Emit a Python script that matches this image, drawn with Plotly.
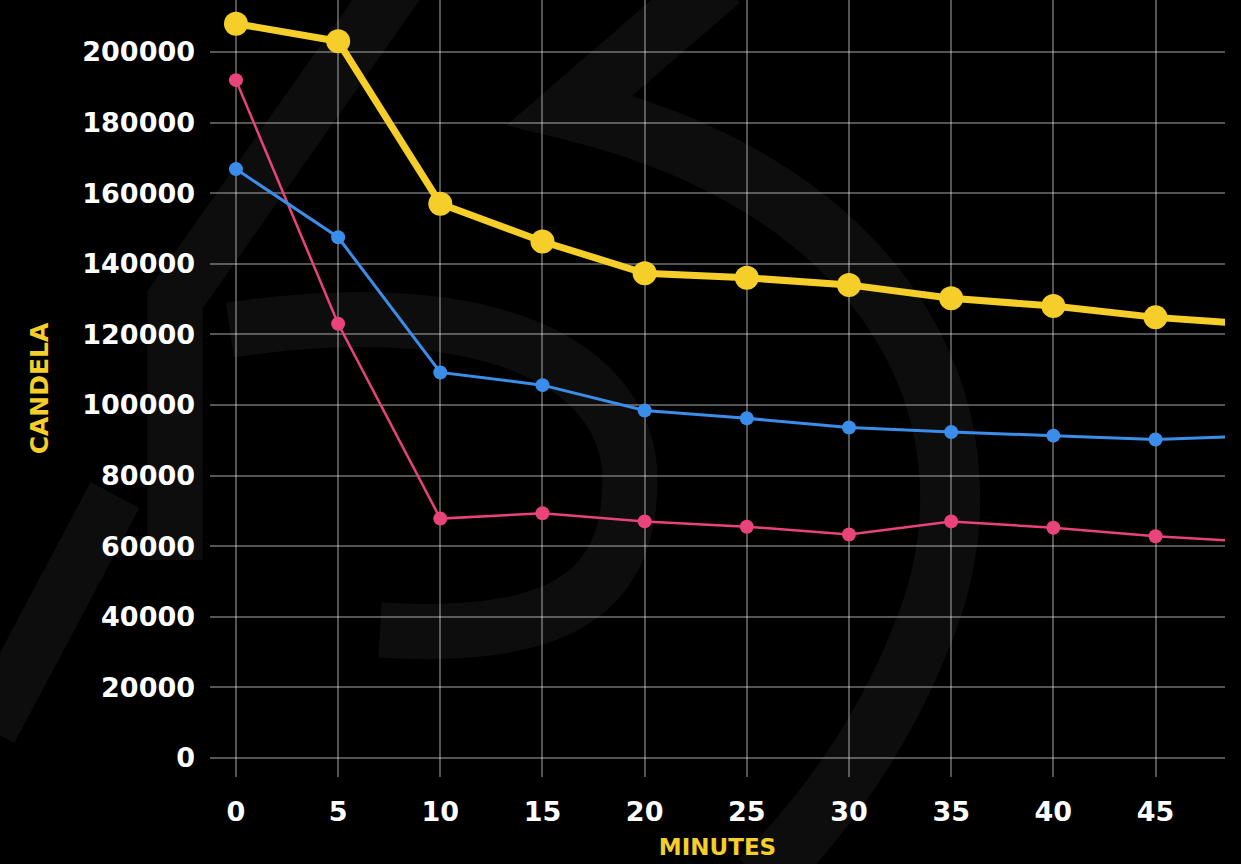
import plotly.graph_objects as go

minutes = [0, 5, 10, 15, 20, 25, 30, 35, 40, 45, 49]
yellow_vals = [208000, 203000, 157000, 146300, 137300, 136000, 134000, 130200, 128000, 124800, 123200]
blue_vals = [166800, 147500, 109200, 105600, 98400, 96200, 93600, 92300, 91300, 90200, 91000]
pink_vals = [192000, 123000, 67800, 69300, 67000, 65500, 63300, 67000, 65200, 62800, 61500]
x_ticks = [0, 5, 10, 15, 20, 25, 30, 35, 40, 45]
y_ticks = [0, 20000, 40000, 60000, 80000, 100000, 120000, 140000, 160000, 180000, 200000]

FONT = "DejaVu Sans"
W, H = 1241, 864
ML, MR, MT, MB = 210, 16, 0, 87
PW, PH = W - ML - MR, H - MT - MB


def msizes(s, n):
    return [s] * (n - 1) + [0]


def px(x, y):
    return (x - ML) / PW, (H - MB - y) / PH


def path(cmds):
    out = []
    for c in cmds:
        if isinstance(c, str):
            out.append(c)
        else:
            a, b = px(*c)
            out.append(f"{a:.4f},{b:.4f}")
    return " ".join(out)


wm = "rgba(255,255,255,0.05)"
shapes = [
    dict(type="path", xref="paper", yref="paper", layer="below",
         path=path(["M", (400, -20), "L", (175, 300), "L", (175, 560)]),
         line=dict(color=wm, width=55)),
    dict(type="path", xref="paper", yref="paper", layer="below",
         path=path(["M", (-10, 730), "L", (115, 495)]),
         line=dict(color=wm, width=55)),
    dict(type="path", xref="paper", yref="paper", layer="below",
         path=path(["M", (720, -20), "L", (570, 110), "C", (900, 190), (1010, 430), (920, 640),
                    "C", (880, 740), (820, 820), (760, 880)]),
         line=dict(color=wm, width=60)),
    dict(type="path", xref="paper", yref="paper", layer="below",
         path=path(["M", (230, 330), "C", (500, 290), (630, 370), (630, 480),
                    "C", (630, 600), (550, 640), (380, 630)]),
         line=dict(color=wm, width=55)),
]

fig = go.Figure()
fig.add_trace(go.Scatter(x=minutes, y=pink_vals, mode="lines+markers",
                         line=dict(color="#E8437A", width=2.5),
                         marker=dict(color="#E8437A", size=msizes(14, len(minutes)),
                                     opacity=1, line=dict(width=0))))
fig.add_trace(go.Scatter(x=minutes, y=blue_vals, mode="lines+markers",
                         line=dict(color="#3A8EEA", width=3),
                         marker=dict(color="#3A8EEA", size=msizes(14, len(minutes)),
                                     opacity=1, line=dict(width=0))))
fig.add_trace(go.Scatter(x=minutes, y=yellow_vals, mode="lines+markers",
                         line=dict(color="#F5CE2A", width=7),
                         marker=dict(color="#F5CE2A", size=msizes(24, len(minutes)),
                                     opacity=1, line=dict(width=0))))

fig.update_layout(
    width=W, height=H,
    paper_bgcolor="#000000", plot_bgcolor="rgba(0,0,0,0)",
    showlegend=False,
    margin=dict(l=ML, r=MR, t=MT, b=MB),
    font=dict(family=FONT, color="white"),
    shapes=shapes,
    xaxis=dict(range=[-1.27, 48.4], tickvals=x_ticks, ticktext=[str(v) for v in x_ticks],
               showgrid=True, gridcolor="rgba(255,255,255,0.33)", gridwidth=2,
               zeroline=False, showline=False,
               tickfont=dict(family=FONT, size=27, color="white", weight="bold"),
               ticklabelstandoff=16,
               title=dict(text="MINUTES", font=dict(family=FONT, size=23, color="#F5CE2A", weight="bold"),
                          standoff=12)),
    yaxis=dict(range=[-5400, 214700], tickvals=y_ticks, ticktext=[str(v) for v in y_ticks],
               showgrid=True, gridcolor="rgba(255,255,255,0.33)", gridwidth=2,
               zeroline=False, showline=False,
               tickfont=dict(family=FONT, size=27, color="white", weight="bold"),
               ticklabelstandoff=14,
               title=dict(text="CANDELA", font=dict(family=FONT, size=25, color="#F5CE2A", weight="bold"),
                          standoff=26)),
)

fig.write_html("out.html", config={"displayModeBar": False},
               post_script="document.body.style.margin='0';document.body.style.background='#000';")
